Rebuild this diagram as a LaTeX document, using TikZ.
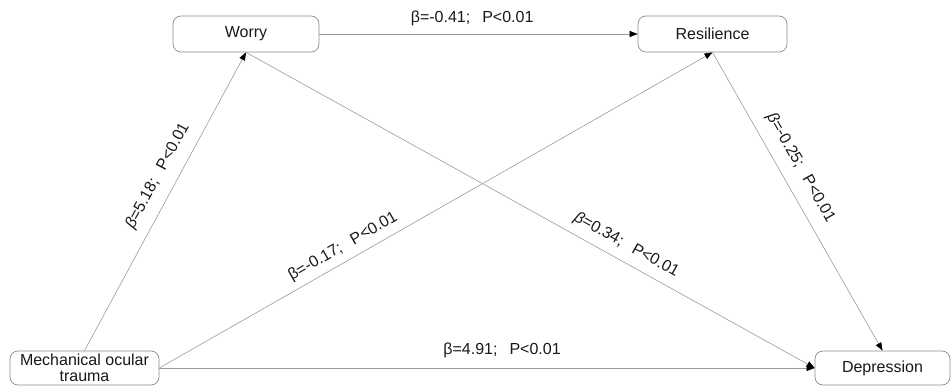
\documentclass[tikz,border=0pt]{standalone}
\usepackage{fontspec}
\setmainfont{Liberation Sans}
\usetikzlibrary{arrows.meta}
\definecolor{edgegray}{RGB}{155,155,155}
\definecolor{boxgray}{RGB}{140,140,140}
\definecolor{inkdark}{RGB}{25,25,25}
\tikzset{
  varbox/.style={draw=boxgray, line width=0.7pt, rounded corners=8pt, fill=white,
    minimum height=36pt, inner sep=0pt, align=center, text=inkdark,
    font=\fontsize{16}{17}\selectfont},
  effect/.style={draw=edgegray, line width=0.6pt,
    -{Triangle[length=8pt,width=6pt,fill=black,color=black]}},
  coef/.style={inner sep=0pt, text=inkdark, font=\fontsize{16}{18}\selectfont},
}
\newcommand{\semisep}{;\hspace{0.75em}}
\begin{document}
\begin{tikzpicture}[x=1pt,y=-1pt]
  \useasboundingbox (0,0) rectangle (952,387);

  % variables
  \node[varbox, minimum width=146pt] (worry) at (246,34) {Worry};
  \node[varbox, minimum width=149pt] (resil) at (712.5,34) {Resilience};
  \node[varbox, minimum width=149pt, minimum height=34pt, font=\fontsize{16}{16.5}\selectfont]
    (trauma) at (84.5,368) {Mechanical ocular\\trauma};
  \node[varbox, minimum width=135pt, minimum height=34pt] (depr) at (882.5,368) {Depression};

  % paths with coefficients
  \draw[effect] (worry.east) -- node[coef, pos=0.48, above=8pt]
    {β=-0.41\semisep P<0.01} (resil.west);
  \draw[effect] (trauma.north) -- node[coef, sloped, pos=0.556, above=11pt]
    {\textit{β}=5.18\semisep P<0.01} (worry.south);
  \draw[effect] (trauma.east) -- node[coef, sloped, pos=0.345, above=6.5pt]
    {β=-0.17\semisep P<0.01} (resil.south);
  \draw[effect] (trauma.east) -- node[coef, pos=0.523, above=10pt]
    {β=4.91\semisep P<0.01} (depr.west);
  \draw[effect] (worry.south) -- node[coef, sloped, pos=0.655, above=8.5pt]
    {\textit{β}=0.34\semisep P<0.01} (depr.west);
  \draw[effect] (resil.south) -- node[coef, sloped, pos=0.42, above=11.5pt]
    {\textit{β}=-0.25\semisep P<0.01} (depr.north);
\end{tikzpicture}
\end{document}
